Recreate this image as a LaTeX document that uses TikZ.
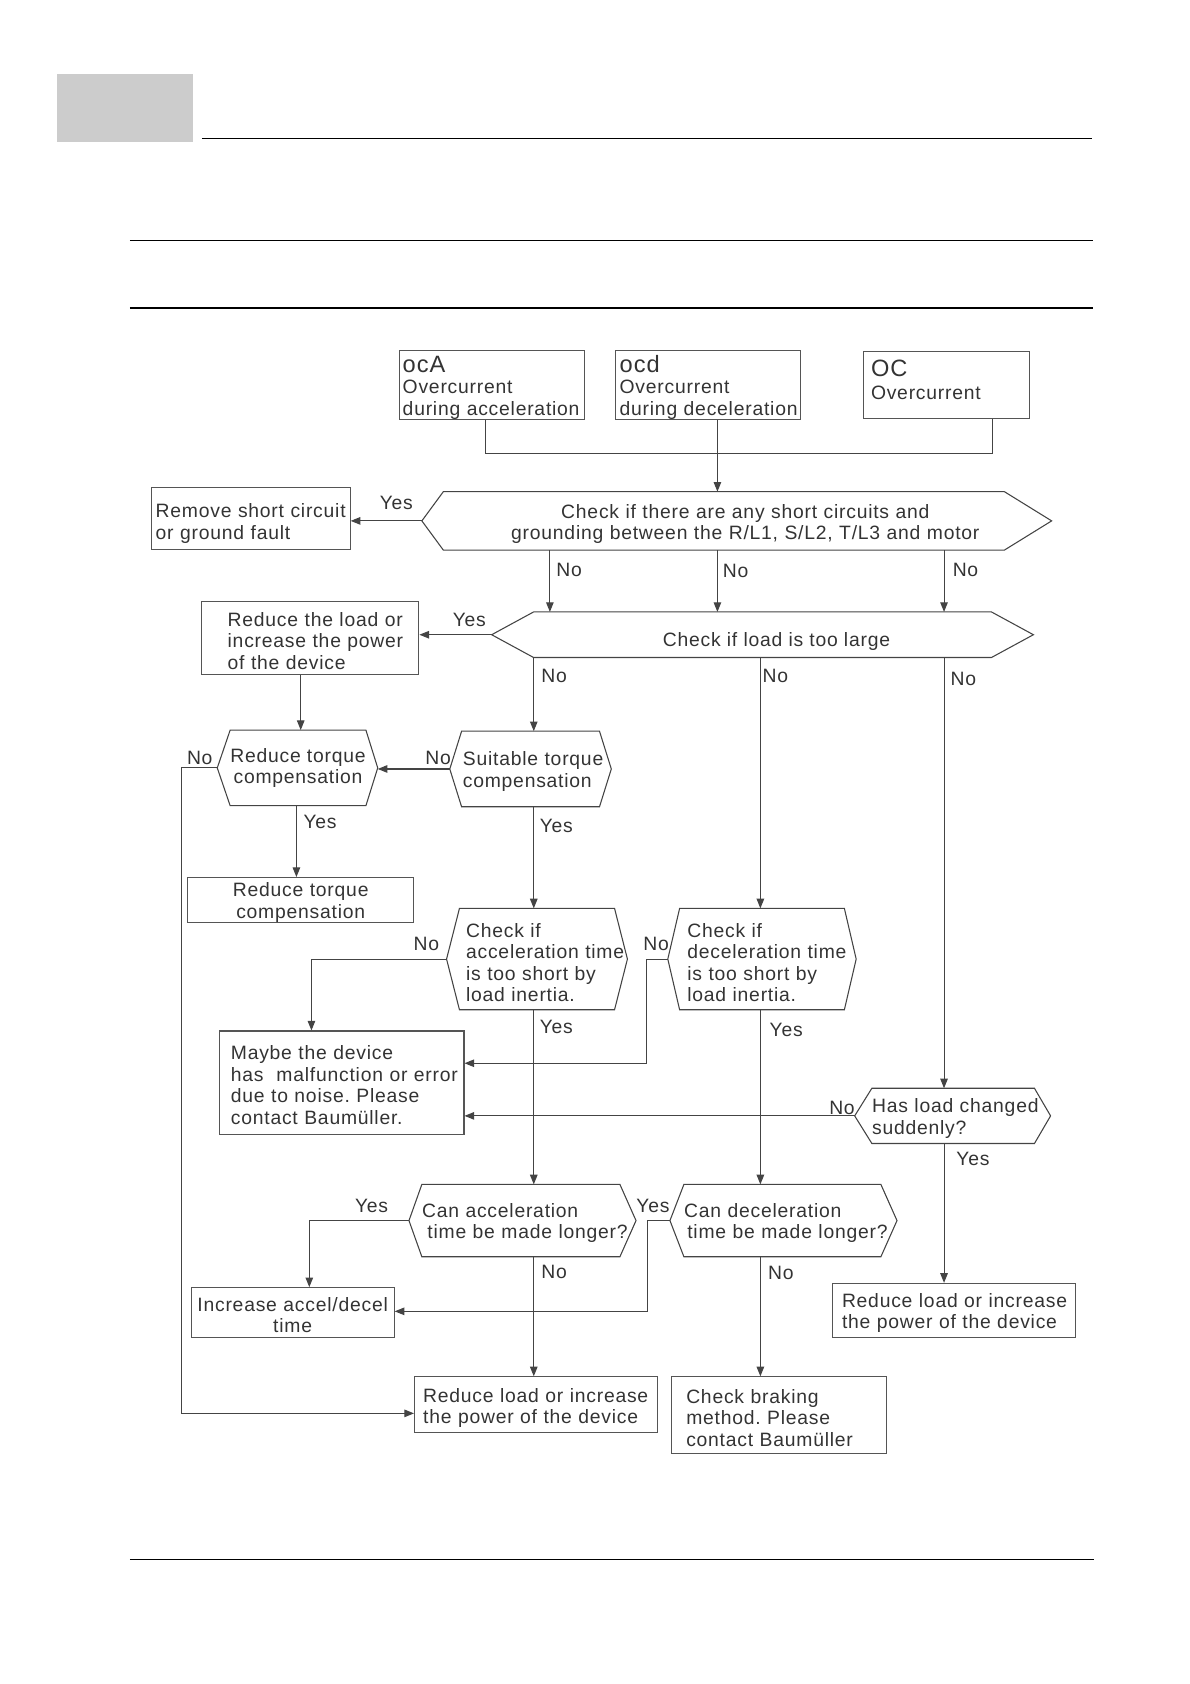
\documentclass[tikz,border=0pt]{standalone}
\usepackage{fontspec}
\setmainfont{Liberation Sans}[LetterSpace=4]
\usetikzlibrary{arrows.meta}
\frenchspacing
\definecolor{ink}{HTML}{333333}
\definecolor{edge}{HTML}{444444}
\definecolor{boxc}{HTML}{555555}
\definecolor{tabgray}{HTML}{CCCCCC}
\newcommand{\myL}[1]{\mbox{#1}}
\newcommand{\hexdraw}[3]{\draw[hexline] ([xshift=-#2]#1.west) coordinate (#1-l) -- (#1.north west) -- (#1.north east) -- ([xshift=#3]#1.east) coordinate (#1-r) -- (#1.south east) -- (#1.south west) -- cycle;}
\tikzset{
  txt/.style={font=\fontsize{18pt}{20pt}\selectfont, text=ink},
  lowered/.style={execute at begin node={\rule{0pt}{#1}}},
  hexcore/.style={txt, inner ysep=0pt, inner xsep=0pt, lowered=18pt},
  hexline/.style={draw=edge, line width=1pt, line join=miter},
  box/.style={txt, draw=boxc, line width=1pt, inner ysep=0pt, lowered=18pt},
  arr/.style={draw=edge, line width=1pt, -{Triangle[length=9pt,width=7pt]}},
  ln/.style={draw=edge, line width=1pt},
  lab/.style={txt, inner sep=0pt},
  rule/.style={draw=black, line width=1.6pt}
}
\begin{document}
\begin{tikzpicture}[x=1pt,y=-1pt]
\useasboundingbox (0,0) rectangle (1108,1568);
% page furniture
\fill[tabgray] (53,69) rectangle (180,132);
\draw[rule] (188,129) -- (1017,129);
\draw[rule] (121,224) -- (1018,224);
\draw[rule] (121,287) -- (1018,287);
\draw[rule] (121,1452) -- (1019,1452);

% top boxes
\node[box, minimum width=172pt, minimum height=63pt, inner xsep=3pt, text width=166pt, align=left, lowered=20pt] (ocA) at (458,358.5)
  {{\fontsize{22pt}{24pt}\selectfont ocA}\\\myL{Overcurrent}\\\myL{during acceleration}};
\node[box, minimum width=172pt, minimum height=63pt, inner xsep=4pt, text width=164pt, align=left, lowered=20pt] (ocd) at (659,358.5)
  {{\fontsize{22pt}{24pt}\selectfont ocd}\\\myL{Overcurrent}\\\myL{during deceleration}};
\node[box, minimum width=155pt, minimum height=63pt, inner xsep=7pt, text width=141pt, align=left, lowered=12pt] (OC) at (881.5,358.5)
  {{\fontsize{22pt}{24pt}\selectfont OC}\\[2pt]\myL{Overcurrent}\par\vspace*{12pt}};

% column / corner coordinates
\coordinate (j1) at (452,422);
\coordinate (j2) at (924,422);
\coordinate (x512) at (512,0);
\coordinate (x668) at (668,0);
\coordinate (x879) at (879,0);
\coordinate (x497) at (497,0);
\coordinate (x708) at (708,0);
\coordinate (x278) at (280,0);
\coordinate (x276) at (276,0);
\coordinate (x290) at (290,0);
\coordinate (x288) at (288,0);
\coordinate (ret) at (169,1316);
\coordinate (k602) at (602,990);
\coordinate (k603) at (603,1221);

% decision: short circuits
\node[hexcore, minimum width=522pt, minimum height=54pt, text width=522pt, align=center, lowered=19pt] (hA) at (674,485)
  {\myL{\hspace*{40pt}Check if there are any short circuits and}\\\myL{\hspace*{40pt}grounding between the R/L1, S/L2, T/L3 and motor}};
\hexdraw{hA}{20pt}{44pt}
\node[box, minimum width=185pt, minimum height=58pt, inner xsep=4pt, text width=177pt, align=left, lowered=22pt] (rem) at (233.5,483)
  {\myL{Remove short circuit}\\\myL{or ground fault}};

% decision: load too large
\node[hexcore, minimum width=426pt, minimum height=42pt, align=center, lowered=25pt] (hB) at (710,591)
  {\hspace*{26pt}Check if load is too large};
\hexdraw{hB}{39pt}{39pt}
\node[box, minimum width=202pt, minimum height=68pt, inner xsep=24pt, text width=154pt, align=left, lowered=15pt] (rl) at (289,594)
  {\myL{Reduce the load or}\\\myL{increase the power}\\\myL{of the device}};

% torque compensation
\node[hexcore, minimum width=125pt, minimum height=70pt, align=center, lowered=13pt] (rt) at (277.5,715)
  {Reduce torque\\compensation};
\hexdraw{rt}{12pt}{11pt}
\node[hexcore, minimum width=128pt, minimum height=70pt, inner xsep=1pt, text width=126pt, align=left] (st) at (494,716)
  {\myL{Suitable torque}\\\myL{compensation}};
\hexdraw{st}{11pt}{11pt}
\node[box, minimum width=210pt, minimum height=40pt, inner xsep=5pt, text width=200pt, align=center, lowered=18pt] (rtb) at (280,838)
  {\myL{Reduce torque}\\\myL{compensation}};

% inertia checks
\node[hexcore, minimum width=144pt, minimum height=94pt, inner xsep=6pt, text width=132pt, align=left, lowered=20pt] (ca) at (500,893)
  {\myL{Check if}\\\myL{acceleration time}\\\myL{is too short by}\\\myL{load inertia.}};
\hexdraw{ca}{12pt}{12pt}
\node[hexcore, minimum width=153pt, minimum height=94pt, inner xsep=7pt, text width=139pt, align=left, lowered=20pt] (cd) at (709.5,893)
  {\myL{Check if}\\\myL{deceleration time}\\\myL{is too short by}\\\myL{load inertia.}};
\hexdraw{cd}{11pt}{11pt}
\node[box, minimum width=228pt, minimum height=96pt, inner xsep=11pt, text width=206pt, align=left] (mb) at (318,1008)
  {\myL{Maybe the device}\\\myL{has\ \ malfunction or error}\\\myL{due to noise. Please}\\\myL{contact Baumüller.}};

% load changed
\node[hexcore, minimum width=151pt, minimum height=51pt, text width=151pt, align=left, lowered=15pt] (hl) at (887.5,1039)
  {\myL{Has load changed}\\\myL{suddenly?}};
\hexdraw{hl}{16pt}{15pt}
\node[box, minimum width=226pt, minimum height=50pt, inner xsep=9pt, text width=208pt, align=left] (rr) at (888,1220)
  {\myL{Reduce load or increase}\\\myL{the power of the device}};

% time longer
\node[hexcore, minimum width=184pt, minimum height=67pt, text width=184pt, align=left, lowered=13pt] (cal) at (485,1136.5)
  {\myL{Can acceleration}\\\myL{\hspace*{5pt}time be made longer?}};
\hexdraw{cal}{12pt}{15pt}
\node[hexcore, minimum width=183pt, minimum height=67pt, text width=183pt, align=left, lowered=13pt] (cdl) at (728.5,1136.5)
  {\myL{Can deceleration}\\\myL{\hspace*{3pt}time be made longer?}};
\hexdraw{cdl}{13pt}{15pt}
\node[box, minimum width=189pt, minimum height=46pt, inner xsep=5pt, text width=179pt, align=center, lowered=17pt] (inc) at (272.5,1222)
  {\myL{Increase accel/decel}\\\myL{time}};
\node[box, minimum width=226pt, minimum height=52pt, inner xsep=8pt, text width=210pt, align=left, lowered=19pt] (rlb) at (499,1308)
  {\myL{Reduce load or increase}\\\myL{the power of the device}};
\node[box, minimum width=200pt, minimum height=71pt, inner xsep=14pt, text width=172pt, align=left] (cb) at (725,1317.5)
  {\myL{Check braking}\\\myL{method. Please}\\\myL{contact Baumüller}};

% connectors
\draw[ln] (ocA.south -| j1) -- (j1) -- (j2) -- (OC.south -| j2);
\draw[arr] (ocd.south -| x668) -- (hA.north -| x668);
\draw[arr] (hA-l) -- (hA-l -| rem.east);
\draw[arr] (hA.south -| x512) -- (hB.north -| x512);
\draw[arr] (hA.south -| x668) -- (hB.north -| x668);
\draw[arr] (hA.south -| x879) -- (hB.north -| x879);
\draw[arr] (hB-l) -- (hB-l -| rl.east);
\draw[arr] (hB.south -| x497) -- (st.north -| x497);
\draw[arr] (hB.south -| x708) -- (cd.north -| x708);
\draw[arr] (hB.south -| x879) -- (hl.north -| x879);
\draw[arr] (rl.south -| x278) -- (rt.north -| x278);
\draw[arr] (st-l) -- (st-l -| rt-r);
\draw[arr] (rt-l) -| (ret) -- (ret -| rlb.west);
\draw[arr] (rt.south -| x276) -- (rtb.north -| x276);
\draw[arr] (st.south -| x497) -- (ca.north -| x497);
\draw[arr] (ca-l) -| (mb.north -| x290);
\draw[arr] (cd-l) -| (k602) -- (k602 -| mb.east);
\draw[arr] (ca.south -| x497) -- (cal.north -| x497);
\draw[arr] (cd.south -| x708) -- (cdl.north -| x708);
\draw[arr] (hl-l) -- (hl-l -| mb.east);
\draw[arr] (hl.south -| x879) -- (rr.north -| x879);
\draw[arr] (cal-l) -| (inc.north -| x288);
\draw[arr] (cdl-l) -| (k603) -- (k603 -| inc.east);
\draw[arr] (cal.south -| x497) -- (rlb.north -| x497);
\draw[arr] (cdl.south -| x708) -- (cb.north -| x708);

% labels
\node[lab] (y1) at (369,468) {Yes};
\node[lab] (n1) at (530,531) {No};
\node[lab] (n2) at (685,532) {No};
\node[lab] (n3) at (899,531) {No};
\node[lab] (y2) at (437,577) {Yes};
\node[lab] (n4) at (516,629) {No};
\node[lab] (n5) at (722,629) {No};
\node[lab] (n6) at (897,632) {No};
\node[lab] (n7) at (186,706) {No};
\node[lab] (n8) at (408,706) {No};
\node[lab] (y3) at (298,765) {Yes};
\node[lab] (y4) at (518,769) {Yes};
\node[lab] (n9) at (397,879) {No};
\node[lab] (n10) at (611,879) {No};
\node[lab] (y5) at (518,956) {Yes};
\node[lab] (y6) at (732,959) {Yes};
\node[lab] (n11) at (784,1032) {No};
\node[lab] (y7) at (906,1079) {Yes};
\node[lab] (y8) at (346,1123) {Yes};
\node[lab] (y9) at (608,1123) {Yes};
\node[lab] (n12) at (516,1184) {No};
\node[lab] (n13) at (727,1185) {No};
\end{tikzpicture}
\end{document}
